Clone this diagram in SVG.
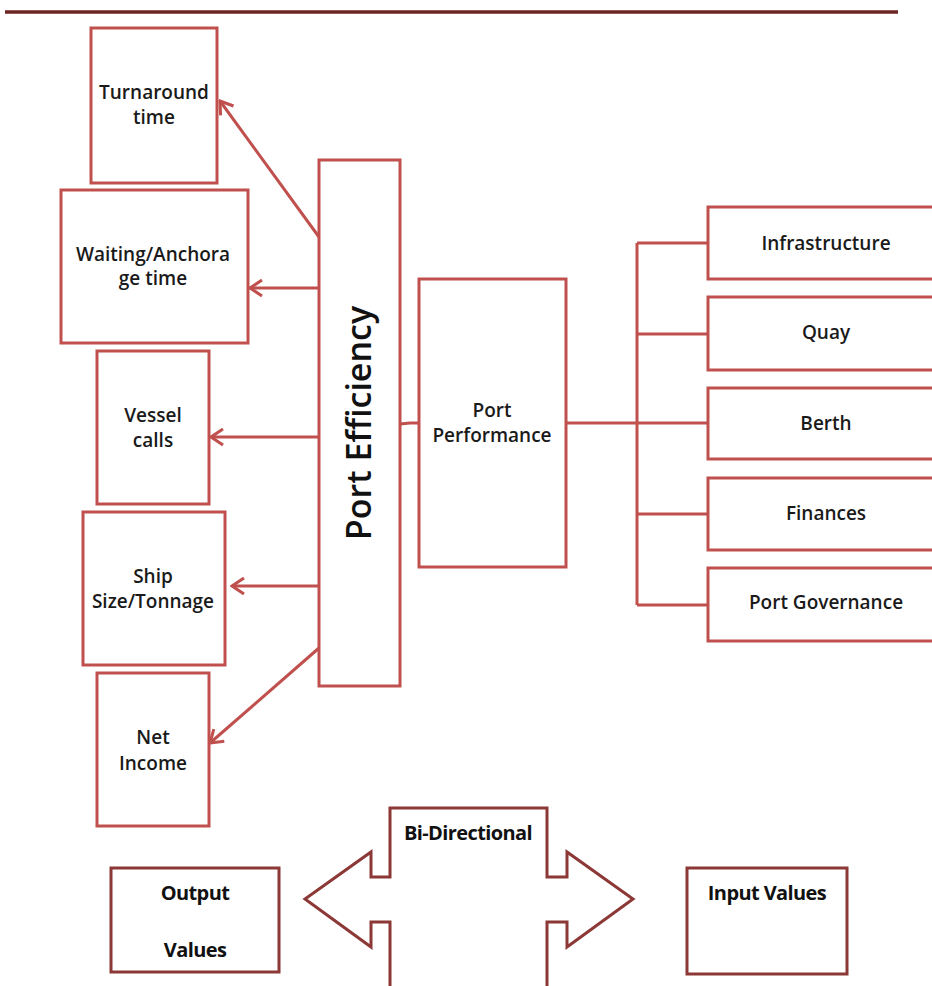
<svg xmlns="http://www.w3.org/2000/svg" width="932" height="986" viewBox="0 0 932 986">
<style>
.box{fill:#fff;stroke:#c0504d;stroke-width:3}
.dbox{fill:#fff;stroke:#8c3836;stroke-width:3}
.con{fill:none;stroke:#c0504d;stroke-width:3}
.t{font-family:"Open Sans","Liberation Sans",sans-serif;font-size:19px;font-weight:600;fill:#1a1a1a;text-anchor:middle}
.tr{font-family:"Open Sans","Liberation Sans",sans-serif;font-size:19px;font-weight:600;fill:#1a1a1a;text-anchor:middle}
.tb{font-family:"Open Sans","Liberation Sans",sans-serif;font-size:20px;font-weight:700;fill:#111;text-anchor:middle;letter-spacing:-0.6px}
</style>
<defs>
<marker id="arr" viewBox="-15 -11 17 22" refX="0" refY="0" markerWidth="17" markerHeight="22" orient="auto" markerUnits="userSpaceOnUse">
<path d="M-12,-8 L0,0 L-12,8" fill="none" stroke="#c0504d" stroke-width="3"/>
</marker>
</defs>
<line x1="5" y1="12" x2="898" y2="12" stroke="#6d2423" stroke-width="3.5"/>

<g id="connectors">
<line class="con" x1="319" y1="237" x2="220" y2="101" marker-end="url(#arr)"/>
<line class="con" x1="319" y1="288" x2="250" y2="288" marker-end="url(#arr)"/>
<line class="con" x1="319" y1="437" x2="211" y2="437" marker-end="url(#arr)"/>
<line class="con" x1="319" y1="586" x2="232" y2="586" marker-end="url(#arr)"/>
<line class="con" x1="319" y1="648" x2="210" y2="743" marker-end="url(#arr)"/>
<polyline class="con" points="400,424 410,423 419,423"/>
<line class="con" x1="566" y1="423" x2="708" y2="423"/>
<line class="con" x1="637" y1="243" x2="637" y2="605"/>
<line class="con" x1="637" y1="243" x2="708" y2="243"/>
<line class="con" x1="637" y1="334" x2="708" y2="334"/>
<line class="con" x1="637" y1="514" x2="708" y2="514"/>
<line class="con" x1="637" y1="605" x2="708" y2="605"/>
</g>

<g id="turnaround"><rect class="box" x="91" y="28" width="126" height="155"/>
<text class="t" x="154" y="99">Turnaround</text><text class="t" x="154" y="124">time</text></g>
<g id="waiting"><rect class="box" x="61" y="190" width="187" height="153"/>
<text class="t" x="153" y="261">Waiting/Anchora</text><text class="t" x="153" y="285">ge time</text></g>
<g id="vessel"><rect class="box" x="97" y="351" width="112" height="153"/>
<text class="t" x="153" y="422">Vessel</text><text class="t" x="153" y="447">calls</text></g>
<g id="ship"><rect class="box" x="83" y="512" width="142" height="153"/>
<text class="t" x="153" y="583">Ship</text><text class="t" x="153" y="608">Size/Tonnage</text></g>
<g id="netincome"><rect class="box" x="97" y="673" width="112" height="153"/>
<text class="t" x="153" y="744">Net</text><text class="t" x="153" y="770">Income</text></g>

<g id="port-efficiency"><rect class="box" x="319" y="160" width="81" height="526"/>
<text transform="translate(371,423) rotate(-90)" x="0" y="0" style="font-family:'Open Sans','Liberation Sans',sans-serif;font-size:34px;font-weight:600;fill:#111;text-anchor:middle">Port Efficiency</text></g>

<g id="port-performance"><rect class="box" x="419" y="279" width="147" height="288"/>
<text class="tr" x="492" y="417">Port</text><text class="tr" x="492" y="442">Performance</text></g>

<g id="infrastructure"><rect class="box" x="708" y="207" width="240" height="72"/>
<text class="tr" x="826" y="250">Infrastructure</text></g>
<g id="quay"><rect class="box" x="708" y="297" width="240" height="73"/>
<text class="tr" x="826" y="339">Quay</text></g>
<g id="berth"><rect class="box" x="708" y="388" width="240" height="71"/>
<text class="tr" x="826" y="430">Berth</text></g>
<g id="finances"><rect class="box" x="708" y="478" width="240" height="72"/>
<text class="tr" x="826" y="520">Finances</text></g>
<g id="port-governance"><rect class="box" x="708" y="568" width="240" height="73"/>
<text class="tr" x="826" y="609">Port Governance</text></g>

<g id="bidirectional">
<path d="M390,992 L390,922 L371,922 L371,947 L305,899 L371,852 L371,877 L390,877 L390,808 L547,808 L547,877 L567,877 L567,852 L633,899 L567,947 L567,922 L547,922 L547,992" fill="#fff" stroke="#8c3836" stroke-width="3"/>
<text class="tb" x="468" y="840">Bi-Directional</text></g>
<g id="output"><rect class="dbox" x="111" y="868" width="168" height="104"/>
<text class="tb" x="195" y="900">Output</text><text class="tb" x="195" y="957">Values</text></g>
<g id="input"><rect class="dbox" x="687" y="868" width="160" height="106"/>
<text class="tb" x="767" y="900">Input Values</text></g>
</svg>
